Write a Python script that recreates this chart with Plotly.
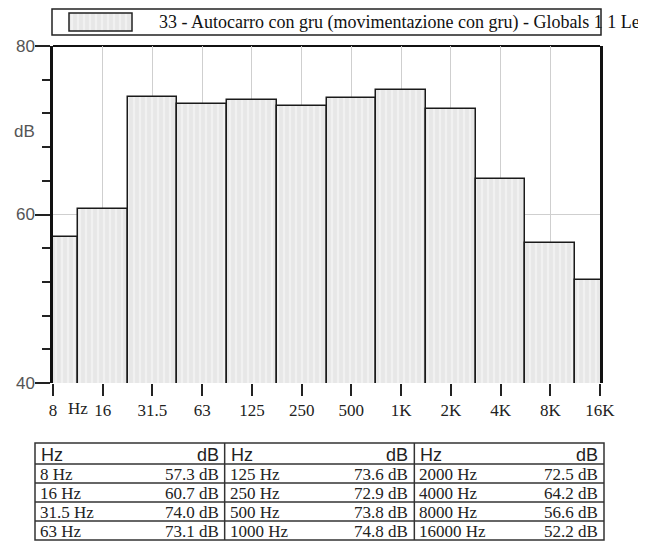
import plotly.graph_objects as go

# ---------------- data ----------------
tick_labels = ["8 Hz", "16", "31.5", "63", "125", "250", "500", "1K", "2K", "4K", "8K", "16K"]
band_names = ["8 Hz", "16 Hz", "31.5 Hz", "63 Hz", "125 Hz", "250 Hz", "500 Hz", "1000 Hz",
              "2000 Hz", "4000 Hz", "8000 Hz", "16000 Hz"]
levels_db = [57.3, 60.7, 74.0, 73.1, 73.6, 72.9, 73.8, 74.8, 72.5, 64.2, 56.6, 52.2]
series_name = "33 - Autocarro con gru (movimentazione con gru) - Globals 1 1 Leq"
y_ticks = [40, 60, 80]

W, H = 646, 544
OFF = 8  # page body margin
def fx(px):
    return (px - OFF) / W
def fy(py):
    return 1 - (py - OFF) / H

# plot area in screen pixels
PL, PR, PT, PB = 53, 600, 46, 383

SERIF = "Liberation Serif, Times New Roman, serif"
SANS = "Liberation Sans, Arial, sans-serif"

pattern = dict(shape="|", fgcolor="#fbfbfb", bgcolor="#e7e7e7", size=6, solidity=0.35)

fig = go.Figure()
x_idx = list(range(len(levels_db)))
fig.add_trace(go.Bar(
    x=x_idx, y=levels_db, width=1,
    marker=dict(color="#e7e7e7", line=dict(color="#1a1a1a", width=1.5), pattern=pattern),
    xaxis="x", yaxis="y", hoverinfo="skip", showlegend=False,
))
# legend swatch
fig.add_trace(go.Bar(
    x=[0], y=[1], width=1,
    marker=dict(color="#e7e7e7", line=dict(width=0), pattern=pattern),
    xaxis="x2", yaxis="y2", hoverinfo="skip", showlegend=False,
))

ticktext = ["8"] + tick_labels[1:]

fig.update_layout(
    width=W, height=H,
    margin=dict(l=0, r=0, t=0, b=0, autoexpand=False),
    paper_bgcolor="white", plot_bgcolor="white",
    showlegend=False,
    bargap=0,
    xaxis=dict(
        domain=[fx(PL), fx(PR)], range=[0, len(levels_db) - 1], automargin=False,
        tickmode="array", tickvals=x_idx, ticktext=ticktext,
        ticks="outside", ticklen=12, tickwidth=1.5, tickcolor="#222",
        tickfont=dict(family=SERIF, size=17, color="#222"),
        showgrid=True, gridcolor="#cfcfcf", gridwidth=1,
        showline=False, zeroline=False, anchor="y", fixedrange=True,
    ),
    yaxis=dict(
        domain=[fy(PB), fy(PT)], range=[40, 80], automargin=False,
        tickmode="array", tickvals=y_ticks,
        ticks="outside", ticklen=15, tickwidth=1.5, tickcolor="#222",
        tickfont=dict(family=SANS, size=17, color="#555"),
        ticklabelstandoff=-3,
        minor=dict(dtick=4, tick0=40, ticks="outside", ticklen=8, tickwidth=2,
                   tickcolor="#222", showgrid=False),
        showgrid=True, gridcolor="#cfcfcf", gridwidth=1,
        showline=True, linewidth=2.5, linecolor="#111", mirror=True,
        layer="below traces", zeroline=False, anchor="x", fixedrange=True,
    ),
    xaxis2=dict(domain=[fx(69), fx(132)], range=[-0.5, 0.5], visible=False,
                anchor="y2", fixedrange=True, automargin=False),
    yaxis2=dict(domain=[fy(31), fy(13)], range=[0, 1], visible=False,
                anchor="x2", fixedrange=True, automargin=False),
)

shapes = []
annotations = []
# top frame line
shapes.append(dict(type="line", xref="paper", yref="paper", x0=fx(PL), x1=fx(PR),
                   y0=fy(PT), y1=fy(PT), line=dict(color="#111", width=2), layer="below"))
# legend box
shapes.append(dict(type="rect", xref="paper", yref="paper", x0=fx(52), x1=fx(601),
                   y0=fy(35), y1=fy(9), line=dict(color="#222", width=1.5)))
shapes.append(dict(type="rect", xref="paper", yref="paper", x0=fx(69), x1=fx(132),
                   y0=fy(31), y1=fy(13), line=dict(color="#222", width=1.5)))
annotations.append(dict(text=series_name, xref="paper", yref="paper", x=fx(157), y=fy(22),
                        xanchor="left", yanchor="middle", showarrow=False,
                        font=dict(family=SERIF, size=18, color="#111")))
# 'Hz' after first tick label, and y-axis unit
annotations.append(dict(text="Hz", xref="paper", yref="paper", x=fx(66), y=fy(408),
                        xanchor="left", yanchor="middle", showarrow=False,
                        font=dict(family=SERIF, size=17, color="#222")))
annotations.append(dict(text="dB", xref="paper", yref="paper", x=fx(37), y=fy(132),
                        xanchor="right", yanchor="middle", showarrow=False,
                        font=dict(family=SANS, size=17, color="#555")))

# ---------------- table ----------------
TL, TR, TT = 35, 604, 443
HEAD_H, ROW_H = 21, 19
n_rows = 4
n_groups = 3
TB = TT + HEAD_H + n_rows * ROW_H
gw = (TR - TL) / n_groups
lc = "#333"
shapes.append(dict(type="rect", xref="paper", yref="paper", x0=fx(TL), x1=fx(TR),
                   y0=fy(TB), y1=fy(TT), line=dict(color=lc, width=1.5)))
for g in range(1, n_groups):
    xg = TL + g * gw
    shapes.append(dict(type="line", xref="paper", yref="paper", x0=fx(xg), x1=fx(xg),
                       y0=fy(TB), y1=fy(TT), line=dict(color=lc, width=1.5)))
for r in range(n_rows):
    yr = TT + HEAD_H + r * ROW_H
    shapes.append(dict(type="line", xref="paper", yref="paper", x0=fx(TL), x1=fx(TR),
                       y0=fy(yr), y1=fy(yr), line=dict(color=lc, width=1.5)))
for g in range(n_groups):
    x0 = TL + g * gw
    annotations.append(dict(text="Hz", xref="paper", yref="paper", x=fx(x0 + 4),
                            y=fy(TT + HEAD_H / 2 + 1), xanchor="left", yanchor="middle",
                            showarrow=False, font=dict(family=SANS, size=18, color="#222")))
    annotations.append(dict(text="dB", xref="paper", yref="paper", x=fx(x0 + gw - 4),
                            y=fy(TT + HEAD_H / 2 + 1), xanchor="right", yanchor="middle",
                            showarrow=False, font=dict(family=SANS, size=18, color="#222")))
    for r in range(n_rows):
        i = g * n_rows + r
        yc = TT + HEAD_H + r * ROW_H + ROW_H / 2 + 1
        annotations.append(dict(text=band_names[i], xref="paper", yref="paper", x=fx(x0 + 3),
                                y=fy(yc), xanchor="left", yanchor="middle", showarrow=False,
                                font=dict(family=SERIF, size=17, color="#222")))
        annotations.append(dict(text=f"{levels_db[i]:.1f} dB", xref="paper", yref="paper",
                                x=fx(x0 + gw - 4), y=fy(yc), xanchor="right", yanchor="middle",
                                showarrow=False, font=dict(family=SERIF, size=17, color="#222")))

fig.update_layout(shapes=shapes, annotations=annotations)
fig.write_html("out.html")
